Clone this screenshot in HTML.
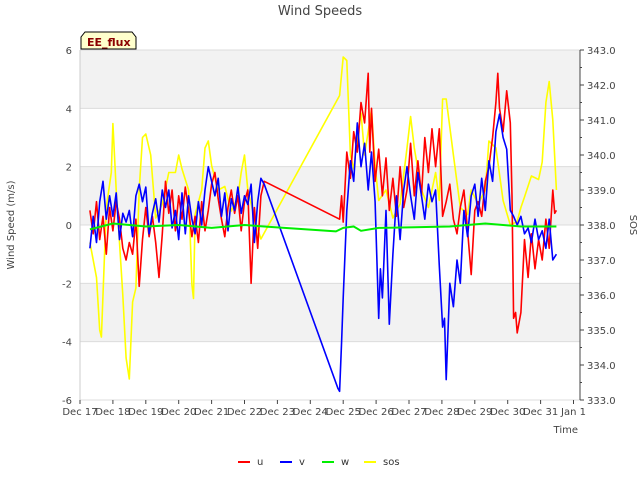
<!DOCTYPE html>
<html><head><meta charset="utf-8"><style>
body{margin:0;background:#fff;font-family:"Liberation Sans","DejaVu Sans",sans-serif;}
svg text{font-family:"DejaVu Sans","Liberation Sans",sans-serif;}
</style></head><body>
<svg id="c" width="640" height="480" xmlns="http://www.w3.org/2000/svg">
<text x="320" y="15" text-anchor="middle" font-size="13" fill="#444">Wind Speeds</text>
<g id="bands"></g><g id="grid"></g><g id="series"></g><g id="axes"></g>
<g>
<path d="M81,49 L81,37 L85,32 L132,32 L136,37 L136,49 Z" fill="#ffffcc" stroke="#000" stroke-width="1"/>
<text x="87" y="46" font-size="11" font-weight="bold" fill="#8b0000">EE_flux</text></g>
<text x="14" y="225" transform="rotate(-90 14 225)" text-anchor="middle" font-size="10" fill="#444">Wind Speed (m/s)</text>
<text x="630" y="225" transform="rotate(90 630 225)" text-anchor="middle" font-size="10" fill="#444">SOS</text>
<text x="578" y="433" text-anchor="end" font-size="10" fill="#444">Time</text>
<g id="legend"></g>
</svg>
<script>
const dayLabels=["Dec 17","Dec 18","Dec 19","Dec 20","Dec 21","Dec 22","Dec 23","Dec 24","Dec 25","Dec 26","Dec 27","Dec 28","Dec 29","Dec 30","Dec 31","Jan 1"];
const yTicks=[-6,-4,-2,0,2,4,6];
const y2Ticks=[333,334,335,336,337,338,339,340,341,342,343];
const uT=[0.3,0.4,0.5,0.6,0.7,0.8,0.9,1.0,1.1,1.2,1.3,1.4,1.5,1.6,1.7,1.8,1.9,2.0,2.1,2.2,2.3,2.4,2.5,2.6,2.7,2.8,2.9,3.0,3.1,3.2,3.3,3.4,3.5,3.6,3.7,3.8,3.9,4.0,4.1,4.2,4.3,4.4,4.5,4.6,4.7,4.8,4.9,5.0,5.1,5.2,5.3,5.4,5.5,5.6,7.89,7.95,8.0,8.11,8.22,8.32,8.43,8.54,8.65,8.76,8.81,8.86,8.97,9.08,9.19,9.3,9.4,9.51,9.62,9.73,9.84,9.94,10.05,10.16,10.27,10.38,10.48,10.59,10.7,10.81,10.92,11.02,11.13,11.24,11.35,11.46,11.56,11.67,11.78,11.89,12.0,12.1,12.21,12.32,12.43,12.54,12.64,12.7,12.75,12.86,12.97,13.08,13.13,13.18,13.24,13.29,13.4,13.51,13.62,13.72,13.83,13.94,14.05,14.16,14.26,14.37,14.43,14.48];
const uV=[0.5,-0.3,0.8,-0.5,0.3,-1,0.6,-0.2,0.8,0.2,-0.8,-1.2,-0.6,-1.0,0.2,-2.1,-0.5,0.6,-0.4,0.3,-0.6,-1.8,-0.3,1.5,0.4,1.2,-0.2,1.0,0.2,1.3,0.5,-0.4,0.3,-0.6,0.8,-0.2,0.5,1.4,1.8,0.9,0.2,-0.4,0.6,1.2,0.4,1.0,-0.2,0.8,1.2,-2.0,0.6,-0.8,1.0,1.5,0.2,1.0,0.1,2.5,1.6,3.2,2.5,4.2,3.5,5.2,2.5,4.0,1.5,2.6,1.0,2.3,0.5,1.6,0.3,2.0,0.6,1.2,2.8,1.0,2.2,1.0,3.0,1.8,3.3,2.0,3.3,0.3,0.8,1.4,0.2,-0.3,0.6,1.2,-0.2,-1.7,0.5,0.8,0.3,1.5,2.0,3.0,4.2,5.2,4.0,3.2,4.6,3.5,1.0,-3.2,-3.0,-3.7,-3.0,-0.5,-1.8,-0.3,-1.5,-0.5,-1.2,0.2,-0.8,1.2,0.4,0.5];
const vT=[0.3,0.4,0.5,0.6,0.7,0.8,0.9,1.0,1.1,1.2,1.3,1.4,1.5,1.6,1.7,1.8,1.9,2.0,2.1,2.2,2.3,2.4,2.5,2.6,2.7,2.8,2.9,3.0,3.1,3.2,3.3,3.4,3.5,3.6,3.7,3.8,3.9,4.0,4.1,4.2,4.3,4.4,4.5,4.6,4.7,4.8,4.9,5.0,5.1,5.2,5.3,5.4,5.5,5.6,7.84,7.89,7.95,8.0,8.11,8.22,8.32,8.43,8.54,8.65,8.76,8.86,8.97,9.08,9.13,9.19,9.3,9.4,9.51,9.62,9.73,9.84,9.94,10.05,10.16,10.27,10.38,10.48,10.59,10.7,10.81,10.92,11.02,11.08,11.13,11.24,11.35,11.46,11.56,11.67,11.78,11.89,12.0,12.1,12.21,12.32,12.43,12.54,12.64,12.75,12.86,12.97,13.08,13.18,13.29,13.4,13.51,13.62,13.72,13.83,13.94,14.05,14.16,14.26,14.37,14.48];
const vV=[-0.8,0.3,-0.6,0.8,1.5,0.2,1.0,0.3,1.1,-0.5,0.4,0.1,0.5,-0.4,1.0,1.4,0.8,1.3,-0.3,0.4,0.9,0.1,1.2,0.6,1.2,-0.1,0.5,-0.5,1.1,-0.3,1.0,0.2,-0.3,0.8,0.0,1.2,2.0,1.5,1.0,1.6,0.3,1.1,-0.2,0.9,0.5,1.3,0.4,1.0,0.7,1.4,-0.6,0.8,1.6,1.4,-5.6,-5.7,-4.0,-2.5,0.5,2.2,1.5,3.5,2.0,2.8,1.2,2.5,0.8,-3.2,-1.5,-2.5,0.5,-3.4,-1.0,1.0,-0.5,1.2,2.0,1.0,0.2,1.8,1.0,0.2,1.4,0.8,1.2,-1.4,-3.5,-3.2,-5.3,-2.0,-2.8,-1.2,-2.0,0.5,-0.4,1.0,1.4,0.3,1.6,0.5,2.2,1.5,3.2,3.8,3.0,2.6,0.5,0.3,0.0,0.3,-0.3,-0.1,-0.6,0.2,-0.5,-0.2,-0.8,0.2,-1.2,-1.0];
const wT=[0.3,1.0,2.0,3.0,4.0,5.0,5.6,7.78,8.0,8.32,8.54,9.08,10.16,11.24,12.32,13.4,14.48];
const wV=[-0.15,0.05,-0.05,0,-0.1,0,-0.05,-0.22,-0.1,-0.05,-0.2,-0.1,-0.08,-0.05,0.05,-0.05,-0.05];
const sT=[0.3,0.5,0.6,0.65,0.8,0.95,1.0,1.1,1.3,1.4,1.5,1.6,1.7,1.8,1.9,2.0,2.15,2.3,2.5,2.7,2.9,3.0,3.1,3.3,3.4,3.45,3.5,3.7,3.8,3.9,4.0,4.2,4.4,4.6,4.8,4.9,5.0,5.1,5.3,5.5,7.89,8.0,8.11,8.22,8.32,8.43,8.54,8.65,8.86,8.97,9.08,9.3,9.51,9.73,9.94,10.05,10.16,10.38,10.59,10.81,10.92,11.02,11.13,11.35,11.56,11.78,11.89,12.1,12.32,12.43,12.64,12.86,13.08,13.29,13.4,13.51,13.72,13.94,14.05,14.16,14.26,14.37,14.48];
const sV=[337.5,336.5,335,334.8,338.5,339.5,340.9,339,336,334.2,333.6,335.8,336.2,339,340.5,340.6,340,338.2,338.6,339.5,339.5,340,339.6,339,336.3,335.9,338.3,339,340.2,340.4,339.7,339,339.1,338.4,338.8,339.5,340,339,338.2,337.6,341.7,342.8,342.7,340,339.6,340.5,341.2,340,341.3,339.7,338.7,339,338.2,338.6,340.2,341.1,340.2,339,338.5,339.5,338.7,341.6,341.6,340,338.5,338.3,339,338.6,339,340.4,340.2,338.7,338,338.1,338.5,338.8,339.4,339.3,339.8,341.5,342.1,341,339];

const NS="http://www.w3.org/2000/svg";
const L=80,R=580,T=50,B=400;
const xs=d=>L+d*32.9;
const ys=v=>225-v*(350/12);
const ys2=v=>B-(v-333)*35;
function mk(tag,attrs,parent){const e=document.createElementNS(NS,tag);for(const k in attrs)e.setAttribute(k,attrs[k]);parent.appendChild(e);return e;}
const bands=document.getElementById('bands'),grid=document.getElementById('grid'),axes=document.getElementById('axes'),series=document.getElementById('series'),legend=document.getElementById('legend');
mk('rect',{x:L,y:T,width:R-L,height:B-T,fill:'#fff'},bands);
[[4,6],[0,2],[-4,-2]].forEach(b=>{const r=mk('rect',{x:L,y:ys(b[1]),width:R-L,height:ys(b[0])-ys(b[1]),fill:'#f2f2f2'},bands);

});
yTicks.forEach(v=>{mk('line',{x1:L,x2:R,y1:ys(v),y2:ys(v),stroke:'#dcdcdc','stroke-width':1},grid);
const t=mk('text',{x:72,y:ys(v)+4,'text-anchor':'end','font-size':10,fill:'#444'},axes);t.textContent=v;

});
mk('line',{x1:L,x2:L,y1:T,y2:B,stroke:'#ccc'},axes);
y2Ticks.forEach(v=>{mk('line',{x1:R,x2:R+4,y1:ys2(v),y2:ys2(v),stroke:'#444'},axes);
const t=mk('text',{x:587,y:ys2(v)+4,'font-size':10,fill:'#444'},axes);t.textContent=v.toFixed(1);


if(v<343){const m=ys2(v+0.5);mk('line',{x1:R,x2:R+2,y1:m,y2:m,stroke:'#444'},axes);}});
mk('line',{x1:R,x2:R,y1:T,y2:B,stroke:'#444'},axes);
dayLabels.forEach((d,i)=>{const x=xs(i);mk('line',{x1:x,x2:x,y1:B,y2:B+4,stroke:'#444'},axes);
const t=mk('text',{x:x,y:415,'text-anchor':'middle','font-size':10,fill:'#444'},axes);t.textContent=d;

});
function line(T_,V_,f,col,name,w){const p=mk('polyline',{points:T_.map((t,i)=>xs(t).toFixed(1)+','+f(V_[i]).toFixed(1)).join(' '),fill:'none',stroke:col,'stroke-width':w,'stroke-linejoin':'round'},series);

}
line(sT,sV,ys2,'#ffff00','sos-line',1.6);
line(uT,uV,ys,'#ff0000','u-line',1.6);
line(vT,vV,ys,'#0000ff','v-line',1.6);
line(wT,wV,ys,'#00ee00','w-line',2);
[['u','#ff0000',238],['v','#0000ff',280],['w','#00ee00',322],['sos','#ffff00',364]].forEach(e=>{
const g=mk('g',{},legend);


mk('line',{x1:e[2],x2:e[2]+12,y1:462,y2:462,stroke:e[1],'stroke-width':2},g);
const t=mk('text',{x:e[2]+19,y:465,'font-size':10,fill:'#333'},g);t.textContent=e[0];});
</script>
</body></html>
